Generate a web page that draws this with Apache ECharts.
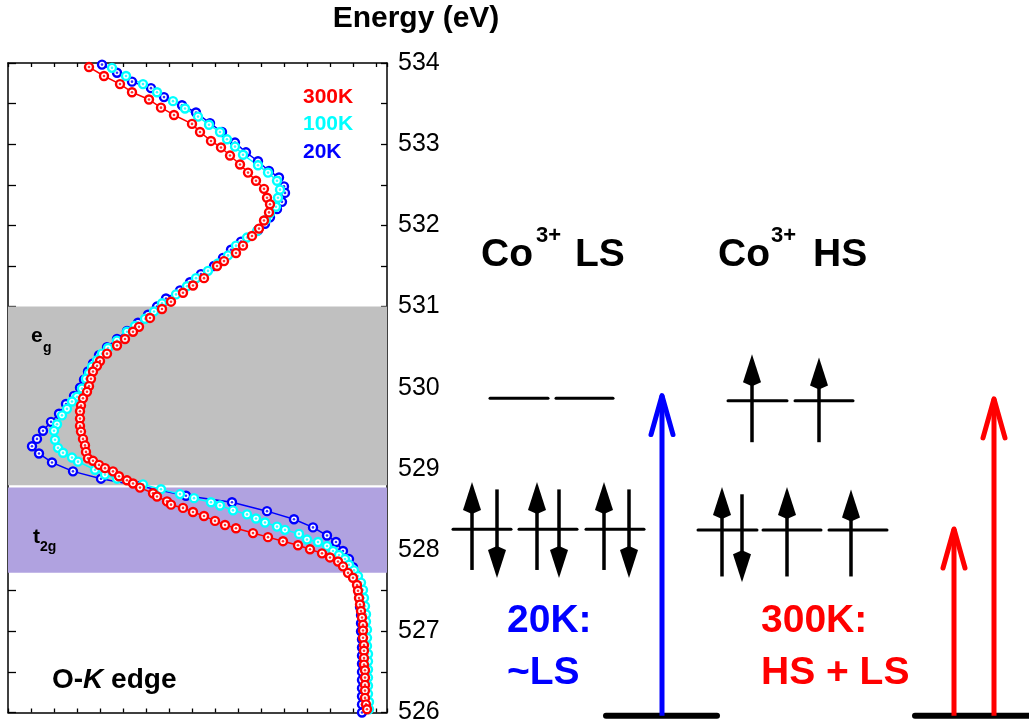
<!DOCTYPE html>
<html><head><meta charset="utf-8">
<script src="https://cdn.jsdelivr.net/npm/echarts@6/dist/echarts.min.js"></script>
<style>html,body{margin:0;padding:0;background:#fff}#c{width:1029px;height:725px}</style>
</head><body><div id="c"></div>
<script>
// ---- O-K edge spectra (energy in eV, intensity in arbitrary units) ----
const energy300 = [533.95,533.84,533.74,533.64,533.55,533.45,533.36,533.25,533.15,533.04,532.96,532.86,532.75,532.65,532.55,532.45,532.34,532.26,532.16,532.06,531.96,531.87,531.75,531.66,531.56,531.50,531.35,531.26,531.17,531.06,530.97,530.86,530.75,530.69,530.60,530.52,530.42,530.33,530.27,530.20,530.11,530.02,529.95,529.87,529.78,529.71,529.62,529.53,529.46,529.37,529.29,529.21,529.13,529.10,529.05,529.01,528.97,528.91,528.86,528.82,528.77,528.70,528.66,528.60,528.56,528.52,528.47,528.42,528.36,528.31,528.27,528.21,528.16,528.11,528.06,528.01,527.96,527.91,527.86,527.80,527.72,527.66,527.57,527.50,527.41,527.33,527.25,527.17,527.08,527.01,526.92,526.83,526.76,526.67,526.59,526.52,526.43,526.34,526.27,526.18,526.10,526.04];
const int300 = [0.81,0.96,1.12,1.24,1.41,1.53,1.66,1.84,1.92,2.03,2.13,2.22,2.32,2.40,2.48,2.56,2.59,2.62,2.61,2.56,2.51,2.44,2.35,2.28,2.16,2.09,1.96,1.85,1.75,1.63,1.54,1.42,1.31,1.25,1.17,1.09,0.99,0.92,0.89,0.85,0.83,0.81,0.79,0.75,0.73,0.72,0.72,0.72,0.73,0.75,0.77,0.78,0.80,0.85,0.91,0.97,1.05,1.11,1.19,1.25,1.32,1.45,1.49,1.59,1.63,1.75,1.85,1.96,2.07,2.17,2.28,2.45,2.60,2.75,2.90,3.02,3.14,3.22,3.30,3.35,3.40,3.45,3.49,3.50,3.51,3.52,3.53,3.54,3.55,3.55,3.55,3.56,3.56,3.56,3.56,3.57,3.57,3.57,3.57,3.57,3.58,3.59];

const energy100 = [533.94,533.84,533.74,533.64,533.53,533.44,533.34,533.24,533.15,533.06,532.97,532.87,532.74,532.65,532.55,532.44,532.34,532.23,532.15,532.07,531.93,531.85,531.75,531.63,531.53,531.44,531.35,531.25,531.15,531.04,530.94,530.85,530.76,530.69,530.58,530.49,530.42,530.34,530.26,530.18,530.11,529.99,529.89,529.83,529.74,529.66,529.55,529.47,529.36,529.26,529.20,529.14,529.09,528.99,528.93,528.88,528.81,528.75,528.69,528.64,528.59,528.55,528.49,528.44,528.39,528.34,528.29,528.25,528.20,528.13,528.10,528.05,527.99,527.94,527.89,527.82,527.75,527.68,527.60,527.51,527.41,527.31,527.21,527.12,527.02,526.92,526.82,526.72,526.63,526.53,526.43,526.33,526.23,526.13,526.04];
const int100 = [1.04,1.18,1.35,1.49,1.65,1.77,1.90,2.01,2.12,2.19,2.27,2.35,2.50,2.60,2.69,2.72,2.70,2.68,2.62,2.58,2.49,2.39,2.28,2.20,2.10,2.00,1.88,1.79,1.68,1.54,1.46,1.37,1.27,1.19,1.09,1.00,0.94,0.89,0.84,0.81,0.78,0.74,0.69,0.64,0.59,0.54,0.49,0.46,0.47,0.50,0.55,0.64,0.70,0.87,0.97,1.09,1.35,1.53,1.72,1.86,2.03,2.12,2.25,2.39,2.48,2.57,2.69,2.77,2.91,2.99,3.10,3.19,3.25,3.31,3.37,3.41,3.46,3.50,3.53,3.55,3.56,3.57,3.58,3.58,3.59,3.59,3.59,3.60,3.60,3.60,3.60,3.60,3.60,3.61,3.61];

const energy20 = [533.98,533.88,533.77,533.69,533.58,533.48,533.39,533.26,533.15,533.02,532.90,532.79,532.67,532.59,532.48,532.40,532.29,532.20,532.10,532.02,531.94,531.80,531.70,531.60,531.50,531.40,531.30,531.20,531.10,531.00,530.90,530.80,530.70,530.60,530.50,530.40,530.30,530.20,530.10,530.00,529.90,529.80,529.68,529.58,529.47,529.37,529.28,529.19,529.08,528.97,528.88,528.79,528.67,528.59,528.48,528.38,528.28,528.18,528.10,527.99,527.89,527.79,527.69,527.60,527.48,527.40,527.30,527.20,527.10,527.00,526.90,526.80,526.70,526.60,526.50,526.40,526.30,526.20,526.10,526.00];
const int20 = [0.94,1.09,1.24,1.43,1.56,1.74,1.88,2.02,2.14,2.27,2.38,2.50,2.61,2.71,2.76,2.77,2.74,2.69,2.62,2.57,2.50,2.33,2.23,2.15,2.06,1.93,1.82,1.72,1.58,1.49,1.40,1.30,1.19,1.09,0.99,0.91,0.85,0.80,0.76,0.72,0.66,0.58,0.51,0.43,0.35,0.29,0.24,0.31,0.44,0.65,0.93,1.32,1.78,2.24,2.59,2.86,3.05,3.19,3.28,3.35,3.41,3.45,3.48,3.50,3.51,3.52,3.52,3.53,3.53,3.53,3.54,3.54,3.54,3.54,3.54,3.54,3.54,3.54,3.54,3.54];

const seriesNames = ['20K','100K','300K'];
const egBand = [531.0, 528.80];
const t2gBand = [528.77, 527.72];
const energyMin = 526, energyMax = 534;

// ---- schematic level diagram (x in diagram units, energy in eV) ----
const levelLines = [[10.3,16.1,529.88],[16.9,22.6,529.88],[34.1,40.0,529.85],[40.8,46.6,529.85],
  [6.6,12.4,528.27],[13.2,19.0,528.27],[19.9,25.7,528.27],[31.1,37.0,528.26],[37.6,43.4,528.26],[44.2,50.0,528.26]];
const groundLines = [[21.9,33.0,525.98],[52.8,64.5,525.98]];
const spinArrows = [[8.5,527.77,528.85],[15.0,527.77,528.85],[21.7,527.77,528.85],
  [11.0,528.76,527.67],[17.2,528.76,527.67],[24.2,528.76,527.67],
  [33.5,527.69,528.79],[40.0,527.69,528.79],[46.4,527.69,528.76],[35.5,528.70,527.62],
  [36.5,529.34,530.42],[43.2,529.34,530.38]];
const bigArrows = [[27.5,525.98,529.95],[56.7,525.98,528.31],[60.7,525.98,529.91]];
const bigArrowColors = ['#0000ff','#ff0000','#ff0000'];

const F = '"Liberation Sans", Arial, sans-serif';
const zip = (e, v) => e.map((en, i) => [v[i], en]);
const cols = {'20K':'#0000ff','100K':'#00ffff','300K':'#ff0000'};
const dataMap = {'20K':zip(energy20,int20),'100K':zip(energy100,int100),'300K':zip(energy300,int300)};

const chart = echarts.init(document.getElementById('c'), null, {renderer:'canvas'});

const series = [{
  type:'line', xAxisIndex:0, yAxisIndex:0, data: dataMap['20K'], symbol:'none',
  lineStyle:{opacity:0}, silent:true, z:1,
  markArea:{silent:true, data:[
    [{yAxis:egBand[0], itemStyle:{color:'#c0c0c0'}},{yAxis:egBand[1]}],
    [{yAxis:t2gBand[0], itemStyle:{color:'#b0a2e0'}},{yAxis:t2gBand[1]}]
  ]}
}];
seriesNames.forEach(n => {
  series.push({type:'line', name:n, xAxisIndex:0, yAxisIndex:0, data:dataMap[n],
    symbol:'circle', symbolSize:8, showAllSymbol:true, z:2,
    lineStyle:{color:cols[n], width:1.5},
    itemStyle:{color:'#ffffff', borderColor:cols[n], borderWidth:2.4},
    emphasis:{disabled:true}});
  series.push({type:'scatter', xAxisIndex:0, yAxisIndex:0, data:dataMap[n], symbol:'circle',
    symbolSize:2.6, itemStyle:{color:cols[n]}, silent:true, z:2});
});

series.push({type:'custom', xAxisIndex:2, yAxisIndex:2, data:levelLines, clip:false, silent:true,
  encode:{x:[0,1], y:[2]},
  renderItem:(p, api) => { const a = api.coord([api.value(0), api.value(2)]), b = api.coord([api.value(1), api.value(2)]);
    return {type:'line', shape:{x1:a[0],y1:a[1],x2:b[0],y2:b[1]}, style:{stroke:'#000', lineWidth:3, lineCap:'round'}}; }});
series.push({type:'custom', xAxisIndex:2, yAxisIndex:2, data:groundLines, clip:false, silent:true,
  encode:{x:[0,1], y:[2]},
  renderItem:(p, api) => { const a = api.coord([api.value(0), api.value(2)]), b = api.coord([api.value(1), api.value(2)]);
    return {type:'line', shape:{x1:a[0],y1:a[1],x2:b[0],y2:b[1]}, style:{stroke:'#000', lineWidth:6, lineCap:'round'}}; }});
series.push({type:'custom', xAxisIndex:2, yAxisIndex:2, data:spinArrows, clip:false, silent:true,
  encode:{x:[0], y:[1,2]},
  renderItem:(p, api) => { const s = api.coord([api.value(0), api.value(1)]), t = api.coord([api.value(0), api.value(2)]);
    const dir = t[1] < s[1] ? -1 : 1, hl = 28, hw = 9, by = t[1] - dir*hl;
    return {type:'group', children:[
      {type:'line', shape:{x1:s[0],y1:s[1],x2:s[0],y2:by - dir*2}, style:{stroke:'#000', lineWidth:3.5}},
      {type:'polygon', shape:{points:[[t[0],t[1]],[t[0]-hw,by],[t[0],by-dir*4],[t[0]+hw,by]]}, style:{fill:'#000'}}
    ]}; }});
series.push({type:'custom', xAxisIndex:2, yAxisIndex:2, data:bigArrows, clip:false, silent:true,
  encode:{x:[0], y:[1,2]},
  renderItem:(p, api) => { const s = api.coord([api.value(0), api.value(1)]), t = api.coord([api.value(0), api.value(2)]);
    const c = bigArrowColors[p.dataIndex];
    return {type:'group', children:[
      {type:'line', shape:{x1:s[0],y1:s[1],x2:t[0],y2:t[1]+3}, style:{stroke:c, lineWidth:5}},
      {type:'polyline', shape:{points:[[t[0]-11,t[1]+42],[t[0],t[1]+3],[t[0]+11,t[1]+42]]}, style:{stroke:c, lineWidth:5, lineJoin:'round', lineCap:'round', fill:null}}
    ]}; }});

const txt = (text, x, y, font, fill, align) => ({type:'text', x, y, silent:true, z:100,
  style:{text, font, fill, align: align || 'left', verticalAlign:'middle'}});

const frameTick = {show:true, inside:true, length:6, lineStyle:{color:'#000', width:1.3}};
const option = {
  animation:false,
  grid:[{left:8, right:642, top:63, bottom:11, show:false},
        {left:387, right:0, top:63, bottom:11, show:false}],
  xAxis:[
    {type:'value', gridIndex:0, position:'bottom', min:0, max:3.79, interval:0.23,
     axisLine:{show:true, onZero:false, lineStyle:{color:'#000', width:1.5}}, axisTick:{...frameTick, length:4},
     axisLabel:{show:false}, splitLine:{show:false}},
    {type:'value', gridIndex:0, position:'top', min:0, max:3.79, interval:0.23,
     axisLine:{show:true, onZero:false, lineStyle:{color:'#000', width:1.5}}, axisTick:{...frameTick, length:4},
     axisLabel:{show:false}, splitLine:{show:false}},
    {type:'value', gridIndex:1, min:0, max:64.2, show:false}
  ],
  yAxis:[
    {type:'value', gridIndex:0, position:'right', min:energyMin, max:energyMax, interval:0.5,
     axisLine:{show:true, onZero:false, lineStyle:{color:'#000', width:1.5}}, axisTick:frameTick,
     axisLabel:{show:true, margin:11, color:'#000', fontSize:25, fontFamily:F,
       formatter: v => Number.isInteger(v) ? String(v) : ''},
     splitLine:{show:false}},
    {type:'value', gridIndex:0, position:'left', min:energyMin, max:energyMax, interval:0.5,
     axisLine:{show:true, onZero:false, lineStyle:{color:'#000', width:1.5}}, axisTick:{...frameTick, length:8},
     axisLabel:{show:false}, splitLine:{show:false}},
    {type:'value', gridIndex:1, min:energyMin, max:energyMax, show:false}
  ],
  series,
  graphic:[
    txt('Energy (eV)', 416, 19, 'bold 30px '+F, '#000', 'center'),
    txt('300K', 303, 97, 'bold 21px '+F, cols['300K']),
    txt('100K', 303, 124, 'bold 21px '+F, cols['100K']),
    txt('20K', 303, 152, 'bold 21px '+F, cols['20K']),
    txt('e', 31, 336, 'bold 21px '+F, '#000'),
    txt('g', 43, 348, 'bold 14px '+F, '#000'),
    txt('t', 33, 537, 'bold 21px '+F, '#000'),
    txt('2g', 40, 547, 'bold 14px '+F, '#000'),
    {type:'text', x:52, y:680, silent:true, z:100, style:{text:'{a|O-}{b|K}{a| edge}', verticalAlign:'middle',
      rich:{a:{font:'bold 28px '+F, fill:'#000'}, b:{font:'italic bold 28px '+F, fill:'#000'}}}},
    txt('Co', 481, 255, 'bold 39px '+F, '#000'),
    txt('3+', 536, 236, 'bold 22px '+F, '#000'),
    txt('LS', 575, 255, 'bold 39px '+F, '#000'),
    txt('Co', 718, 255, 'bold 39px '+F, '#000'),
    txt('3+', 771, 236, 'bold 22px '+F, '#000'),
    txt('HS', 813, 255, 'bold 39px '+F, '#000'),
    txt('20K:', 507, 621, 'bold 39px '+F, '#0000ff'),
    txt('~LS', 507, 673, 'bold 39px '+F, '#0000ff'),
    txt('300K:', 761, 621, 'bold 39px '+F, '#ff0000'),
    txt('HS + LS', 761, 673, 'bold 39px '+F, '#ff0000')
  ]
};
chart.setOption(option);
</script></body></html>
